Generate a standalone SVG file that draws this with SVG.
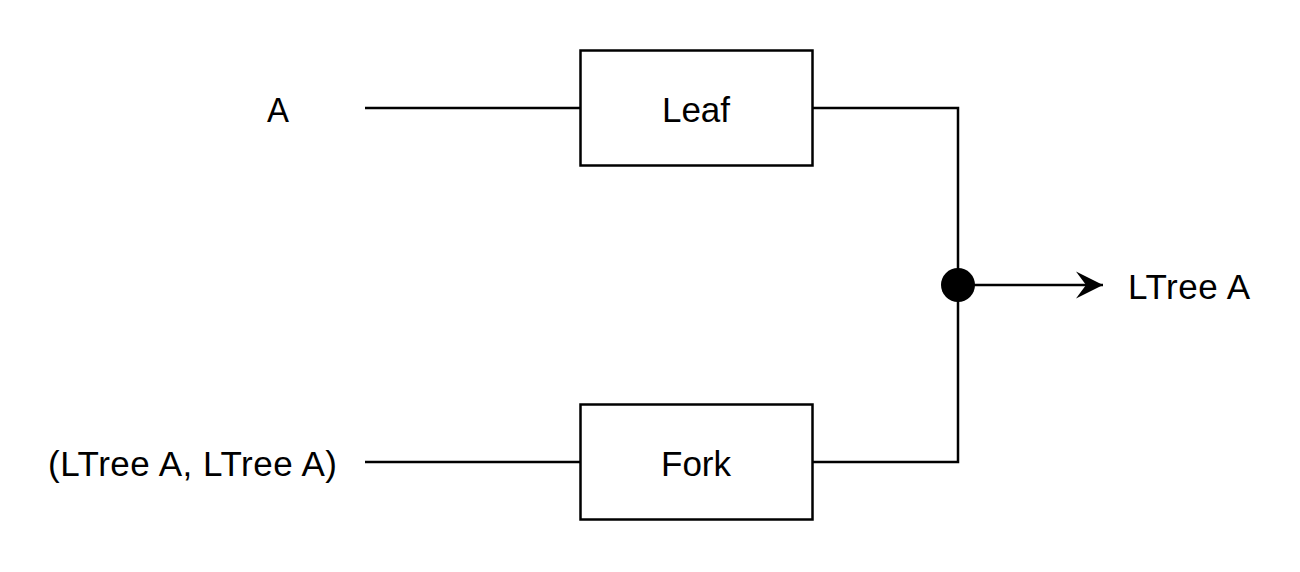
<svg xmlns="http://www.w3.org/2000/svg" width="1300" height="572" viewBox="0 0 1300 572">
<style>
.box{fill:#fff;stroke:#000;stroke-width:2.5}
.ln{fill:none;stroke:#000;stroke-width:2.5}
.t{font-family:"Liberation Sans",Arial,sans-serif;font-size:35px;fill:#000}
</style>
<defs>
<marker id="arr" markerUnits="userSpaceOnUse" markerWidth="32" markerHeight="30" refX="29" refY="13.5" orient="auto" viewBox="0 0 32 27">
<path d="M2,0 L29,13.5 L2,27 L12,13.5 Z" fill="#000"/>
</marker>
</defs>
<rect width="1300" height="572" fill="#fff"/>
<g id="connectors">
<path class="ln" d="M365,108 H580"/>
<path class="ln" d="M365,462 H580"/>
<path class="ln" d="M812,108 H958 V462 H812"/>
<path class="ln" d="M958,285 H1103" marker-end="url(#arr)"/>
</g>
<g id="input-a"><text class="t" x="267" y="121.5" textLength="22" lengthAdjust="spacingAndGlyphs">A</text></g>
<g id="input-pair"><text class="t" x="48" y="475.5" textLength="289" lengthAdjust="spacing">(LTree A, LTree A)</text></g>
<g id="leaf"><rect class="box" x="580.5" y="50.5" width="232" height="115"/><text class="t" x="696" y="121.5" text-anchor="middle">Leaf</text></g>
<g id="fork"><rect class="box" x="580.5" y="404.5" width="232" height="115"/><text class="t" x="696" y="475.5" text-anchor="middle">Fork</text></g>
<g id="junction"><circle cx="958" cy="285" r="17" fill="#000"/></g>
<g id="output"><text class="t" x="1128" y="299" textLength="122" lengthAdjust="spacing">LTree A</text></g>
</svg>
